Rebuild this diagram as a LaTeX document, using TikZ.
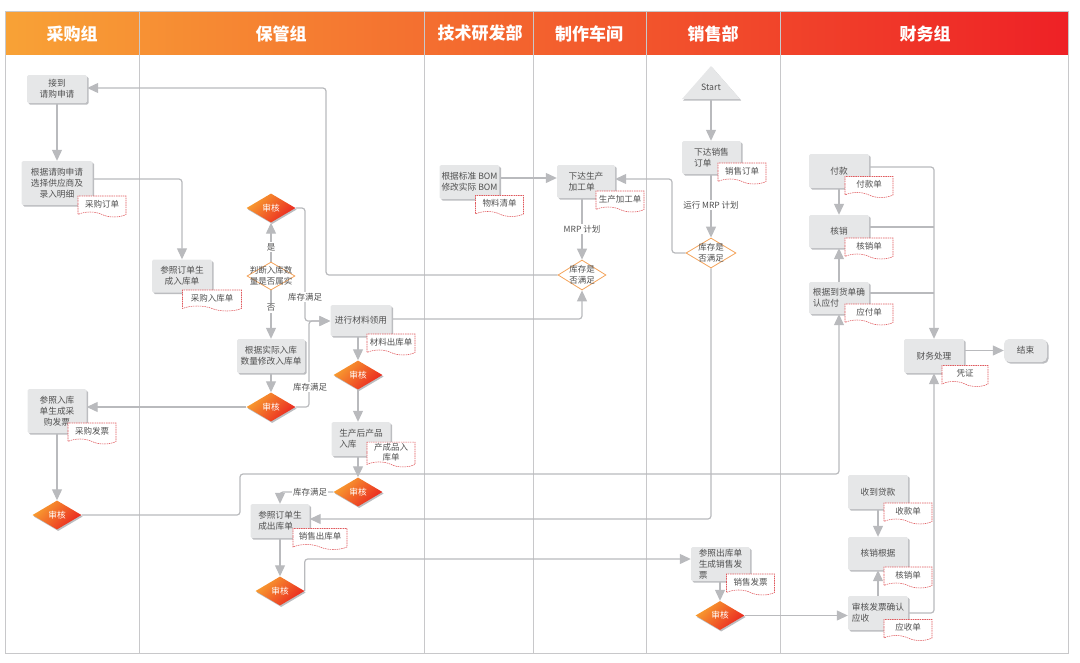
\documentclass[tikz,border=0pt]{standalone}
\usepackage{fontspec}
\setmainfont{Noto Sans CJK SC}
\usetikzlibrary{arrows.meta,shapes.geometric,shapes.symbols,shadows}
\definecolor{lanegray}{HTML}{C8C8CA}
\definecolor{conngray}{HTML}{B9BABD}
\definecolor{boxfill}{HTML}{E6E7E8}
\definecolor{shadowc}{HTML}{BCBDC0}
\definecolor{textc}{HTML}{505050}
\definecolor{docred}{HTML}{E05A5E}
\definecolor{dborder}{HTML}{F4A45C}
\definecolor{hdrL}{HTML}{F8A236}
\definecolor{hdrR}{HTML}{EE2126}
\definecolor{audL}{HTML}{F8A030}
\definecolor{audR}{HTML}{EA2420}
\pgfdeclarelayer{background}
\pgfsetlayers{background,main}
\tikzset{
  box/.style={rectangle, rounded corners=1.5pt, fill=boxfill, draw=none,
    drop shadow={shadow xshift=1.6pt, shadow yshift=-1.6pt, fill=shadowc, opacity=1},
    inner xsep=2pt, inner ysep=1pt, align=center, text=textc,
    font=\fontsize{8.7pt}{11pt}\selectfont},
  doc/.style={shape=tape, tape bend top=none, tape bend bottom=out and in,
    tape bend height=5pt, minimum width=48pt, minimum height=21pt, inner sep=1pt,
    fill=white, draw=docred, dash pattern=on 1.5pt off 0.8pt, line width=0.55pt,
    align=center, text=textc, font=\fontsize{8.5pt}{10pt}\selectfont},
  audit/.style={diamond, minimum width=49pt, minimum height=29pt, inner sep=0pt,
    left color=audL, right color=audR, shading angle=45,
    drop shadow={shadow xshift=1.2pt, shadow yshift=-1.5pt, fill=shadowc, opacity=1},
    text=white, font=\fontsize{8.7pt}{11pt}\selectfont},
  wdia/.style={diamond, inner sep=0pt, fill=white, draw=dborder, line width=0.8pt},
  dtext/.style={align=center, inner sep=0pt, text=textc, font=\fontsize{8.5pt}{10.5pt}\selectfont},
  conn/.style={draw=conngray, line width=1.2pt, rounded corners=3pt,
    -{Triangle[length=11pt,width=10pt]}},
  connl/.style={draw=conngray, line width=1.2pt, rounded corners=3pt},
  lbl/.style={fill=white, inner sep=1pt, text=textc, font=\fontsize{8.5pt}{10pt}\selectfont},
  hdr/.style={text=white, font=\fontsize{17pt}{20pt}\selectfont\bfseries},
  lane/.style={draw=lanegray, line width=1pt}
}
\begin{document}
\begin{tikzpicture}[x=1pt,y=-1pt]
\useasboundingbox (0,0) rectangle (1080,662);
% header texts
\node[hdr] (h1) at (72,33.5) {采购组};
\node[hdr] (h2) at (281,33.5) {保管组};
\node[hdr] (h3) at (480,33.5) {技术研发部};
\node[hdr] (h4) at (589,33.5) {制作车间};
\node[hdr] (h5) at (713,33.5) {销售部};
\node[hdr] (h6) at (925,33.5) {财务组};

% lane 1
\node[box, minimum width=60pt, minimum height=28pt] (n1) at (57,89) {接到\\请购申请};
\node[box, minimum width=71pt, minimum height=44pt] (n2) at (57,183) {根据请购申请\\选择供应商及\\录入明细};
\node[doc] (d1) at (102,204) {采购订单};
\node[box, minimum width=59pt, minimum height=44pt] (n3) at (57,411) {参照入库\\单生成采\\购发票};
\node[doc] (d2) at (92,431) {采购发票};
\node[audit] (a1) at (57,515) {审核};

% lane 2
\node[box, minimum width=60pt, minimum height=33pt] (n4) at (182,276) {参照订单生\\成入库单};
\node[doc, minimum width=59pt] (d3) at (212,298) {采购入库单};
\node[audit] (a2) at (271,208) {审核};
\node[wdia, minimum width=48pt, minimum height=28pt, label={[dtext]center:{判断入库数\\量是否属实}}] (j1) at (271,276) {};
\node[box, minimum width=68pt, minimum height=34pt] (n5) at (271,356) {根据实际入库\\数量修改入库单};
\node[audit] (a3) at (271,407) {审核};
\node[box, minimum width=61pt, minimum height=31pt] (n6) at (361,320.5) {进行材料领用};
\node[doc] (d4) at (391,342) {材料出库单};
\node[audit] (a4) at (358,375) {审核};
\node[box, align=left, minimum width=59pt, minimum height=34pt] (n7) at (361,439) {生产后产品\\入库};
\node[doc, minimum height=23pt] (d5) at (391,452) {产成品入\\库单};
\node[audit] (a5) at (358,492) {审核};
\node[box, align=left, minimum width=59pt, minimum height=34pt] (n8) at (280,521) {参照订单生\\成出库单};
\node[doc, minimum width=54pt] (d6) at (320,536.5) {销售出库单};
\node[audit] (a6) at (280,591) {审核};

% lane 3
\node[box, align=left, minimum width=59pt, minimum height=34pt] (n9) at (469.5,182) {根据标准 BOM\\修改实际 BOM};
\node[doc] (d7) at (499.5,203.5) {物料清单};

% lane 4
\node[box, align=left, minimum width=58pt, minimum height=33pt] (n10) at (586,181.5) {下达生产\\加工单};
\node[doc] (d8) at (620,199) {生产加工单};
\node[wdia, minimum width=48pt, minimum height=30pt, label={[dtext]center:{库存是\\否满足}}] (j2) at (582,275) {};

% lane 5
\path[fill=boxfill, drop shadow={shadow xshift=1.2pt, shadow yshift=-1.5pt, fill=shadowc, opacity=1}] (682,99) -- (711,66) -- (740,99) -- cycle;
\node[text=textc, inner sep=1pt, font=\fontsize{8.7pt}{11pt}\selectfont] (st) at (711,87) {Start};
\coordinate (stb) at (711,99);
\node[box, align=left, minimum width=59pt, minimum height=33pt] (n11) at (711.5,157.5) {下达销售\\订单};
\node[doc] (d9) at (742,171) {销售订单};
\node[wdia, minimum width=50pt, minimum height=30pt, label={[dtext]center:{库存是\\否满足}}] (j3) at (711,253) {};
\node[box, align=left, minimum width=59pt, minimum height=34pt] (n12) at (720.5,564) {参照出库单\\生成销售发\\票};
\node[doc] (d10) at (750.5,582) {销售发票};
\node[audit] (a7) at (720,615.5) {审核};

% lane 6
\node[box, minimum width=60pt, minimum height=34pt] (n13) at (839,171) {付款};
\node[doc] (d11) at (869,184.5) {付款单};
\node[box, minimum width=60pt, minimum height=33pt] (n14) at (839,231.5) {核销};
\node[doc] (d12) at (869,246) {核销单};
\node[box, align=left, minimum width=60pt, minimum height=32pt] (n15) at (839,298) {根据到货单确\\认应付};
\node[doc] (d13) at (869,312) {应付单};
\node[box, minimum width=60pt, minimum height=34pt] (n16) at (934,356) {财务处理};
\node[doc, minimum width=46pt] (d14) at (965,373.5) {凭证};
\node[box, rounded corners=5pt, minimum width=43pt, minimum height=23pt] (n17) at (1025.5,350.5) {结束};
\node[box, minimum width=60pt, minimum height=34pt] (n18) at (878,492) {收到贷款};
\node[doc] (d15) at (908,511) {收款单};
\node[box, minimum width=60pt, minimum height=33pt] (n19) at (878,553.5) {核销根据};
\node[doc] (d16) at (908,575) {核销单};
\node[box, align=left, minimum width=60pt, minimum height=34pt] (n20) at (878,613) {审核发票确认\\应收};
\node[doc] (d17) at (908,627.5) {应收单};

\begin{pgfonlayer}{background}
% header band and lanes
\shade[left color=hdrL, right color=hdrR] (5,11) rectangle (1068,54);
\draw[lane] (5,11) rectangle (1068,653);
\foreach \lx in {139,424,533,646,780} \draw[lane] (\lx,11) -- (\lx,653);

% connectors
\draw[conn] (n1.south) -- (n2.north);
\draw[conn] (n2.east |- 0,179) -| (n4.north);
\draw[conn] (j2.west) -| (326,88) -- (n1.east |- 0,88);
\draw[conn] (a2.east) -| (305,321) -- (n6.west |- 0,321);
\draw[conn] (j1.north) -- (a2.south);
\draw[conn] (j1.south) -- (n5.north);
\draw[conn] (n5.south) -- (a3.north);
\draw[conn] (a3.east) -| (309,321) -- (n6.west |- 0,321);
\draw[conn] (a3.west) -- (n3.east |- a3.west);
\draw[conn] (n3.south) -- (a1.north);
\draw[conn] (a1.east) -| (240,474) -| (n15.south);
\draw[conn] (n6.east |- 0,319) -| (j2.south);
\draw[conn] (a4.north |- n6.south) -- (a4.north);
\draw[conn] (a4.south) -- (a4.south |- n7.north);
\draw[conn] (a5.north |- n7.south) -- (a5.north);
\draw[conn] (a5.west) -| (n8.north);
\draw[conn] (j3.south) |- (n8.east |- 0,519);
\draw[conn] (a6.north |- n8.south) -- (a6.north);
\draw[conn] (a6.east) |- (n12.west |- 0,559);
\draw[conn] (stb) -- (stb |- n11.north);
\draw[conn] (n11.south -| j3.north) -- (j3.north);
\draw[conn] (j3.west) -| (672,179) -- (n10.east |- 0,179);
\draw[conn] (n9.east |- 0,178) -- (n10.west |- 0,178);
\draw[conn] (j2.north |- n10.south) -- (j2.north);
\draw[conn] (a7.north |- n12.south) -- (a7.north);
\draw[conn] (a7.east) -- (n20.west |- a7.east);
\draw[conn] (n13.south) -- (n14.north);
\draw[conn] (n15.north) -- (n14.south);
\draw[conn] (n13.east |- 0,167) -| (n16.north);
\draw[connl] (n14.east |- 0,227) -- (934,227);
\draw[connl] (n15.east |- 0,293) -- (934,293);
\draw[conn] (n16.east |- 0,350.5) -- (n17.west);
\draw[conn] (n20.east) -| (n16.south);
\draw[conn] (n18.south) -- (n19.north);
\draw[conn] (n20.north) -- (n19.south);

% connector labels
\node[lbl] (l1) at (305,297) {库存满足};
\node[lbl] (l2) at (310,387) {库存满足};
\node[lbl] (l3) at (310,492) {库存满足};
\node[lbl] (l4) at (271,247) {是};
\node[lbl] (l5) at (271,308) {否};
\node[lbl] (l6) at (582,229) {MRP 计划};
\node[lbl] (l7) at (711,205) {运行 MRP 计划};
\end{pgfonlayer}
\end{tikzpicture}
\end{document}
